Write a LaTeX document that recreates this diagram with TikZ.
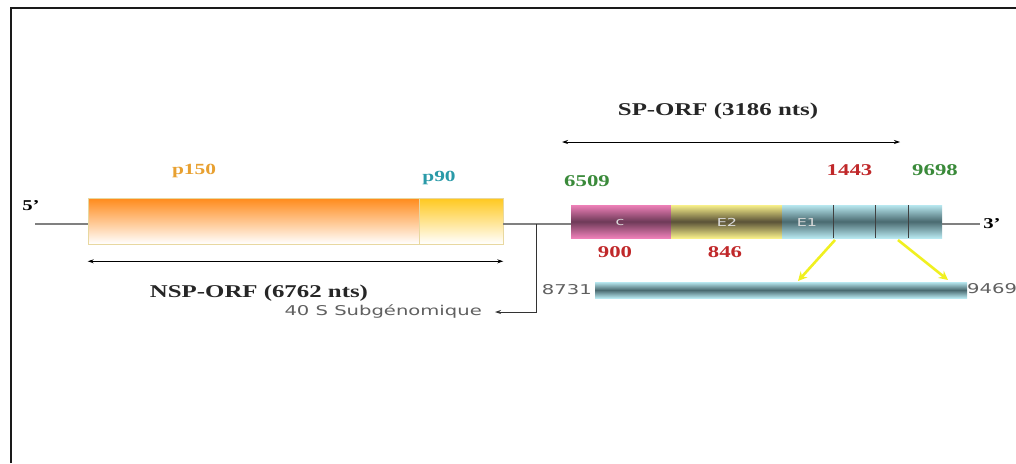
\documentclass[tikz,border=0pt]{standalone}
\usepackage{fontspec}
\usetikzlibrary{arrows.meta}
\setmainfont{Liberation Serif}
\newfontfamily\labfont[FakeStretch=1.38]{Liberation Serif}
\newfontfamily\grfont[FakeStretch=1.45]{DejaVu Sans}
\definecolor{frame}{HTML}{1A1A1A}
\definecolor{mainline}{HTML}{808080}
\definecolor{porange}{HTML}{FF8A1A}
\definecolor{pyellow}{HTML}{FFC81E}
\definecolor{pborder}{HTML}{E8D8A0}
\definecolor{lorange}{HTML}{E8A030}
\definecolor{lteal}{HTML}{2A9AA8}
\definecolor{lgreen}{HTML}{3A8A3A}
\definecolor{lred}{HTML}{C0282A}
\definecolor{cpink}{HTML}{EE80B8}
\definecolor{cdark}{HTML}{6E3A58}
\definecolor{eyel}{HTML}{F8F08A}
\definecolor{edark}{HTML}{5A5238}
\definecolor{ecyan}{HTML}{B8E8F0}
\definecolor{eteal}{HTML}{4A6A70}
\definecolor{arrowyel}{HTML}{F0F020}
\definecolor{greytext}{HTML}{606060}
\definecolor{boxtext}{HTML}{DADADA}
\tikzset{
  orfbox/.style={draw=pborder, line width=0.6pt, inner sep=0pt, minimum height=46pt},
  protbox/.style={inner sep=0pt, minimum height=33pt},
  bigl/.style={font=\labfont\bfseries\fontsize{18}{20}\selectfont, inner sep=0pt, text=black!85},
  numl/.style={font=\labfont\bfseries\fontsize{16.5}{18}\selectfont, inner sep=0pt},
  grl/.style={font=\grfont\fontsize{13.5}{15}\selectfont, inner sep=0pt, text=greytext},
  boxl/.style={font=\grfont\fontsize{11}{12}\selectfont, inner sep=0pt, text=boxtext},
  molline/.style={draw=mainline, line width=1.2pt},
  dimarrow/.style={draw=black, line width=0.8pt, {Stealth[length=6pt,width=4pt]}-{Stealth[length=6pt,width=4pt]}},
  yelarrow/.style={draw=arrowyel, line width=2.6pt, -{Stealth[length=9pt,width=9pt]}},
}
\begin{document}
\begin{tikzpicture}[x=1pt,y=-1pt]
\useasboundingbox (0,0) rectangle (1016,463);
\draw[frame, line width=2.6pt] (11,463) -- (11,8) -- (1016,8);

% non-structural ORF boxes
\node[orfbox, minimum width=331pt, top color=porange, bottom color=white] (p150) at (253.5,221) {};
\node[orfbox, minimum width=84pt, top color=pyellow, bottom color=white] (p90) at (461,221) {};

% structural protein boxes
\node[protbox, minimum width=100pt, top color=cpink, bottom color=cpink, middle color=cdark] (c) at (621,221.5) {};
\node[protbox, minimum width=111pt, top color=eyel, bottom color=eyel, middle color=edark] (e2) at (726.5,221.5) {};
\node[protbox, minimum width=160pt, top color=ecyan, bottom color=ecyan, middle color=eteal] (e1) at (862,221.5) {};
\foreach \xx in {833,875,908} \draw[black!75, line width=1pt] (\xx,205) -- (\xx,238);
\node[boxl] (cl) at (620,222) {c};
\node[boxl] (e2l) at (727,222) {E2};
\node[boxl] (e1l) at (807,222) {E1};

% E1 detail bar
\node[inner sep=0pt, minimum width=372pt, minimum height=16pt, top color=ecyan, bottom color=ecyan, middle color=eteal] (bar) at (781,290) {};

% main RNA line
\coordinate (five) at (35,224);
\coordinate (br) at (536,224);
\coordinate (threeend) at (980,224);
\draw[molline] (five) -- (five -| p150.west);
\draw[molline] (p90.east |- five) -- (c.west |- five);
\draw[molline] (e1.east |- five) -- (threeend);

% end labels
\node[font=\labfont\bfseries\fontsize{15}{16}\selectfont, inner sep=0pt] (l5) at (31,206) {5’};
\node[font=\labfont\bfseries\fontsize{15}{16}\selectfont, inner sep=0pt] (l3) at (992,224) {3’};

% protein labels
\node[numl, text=lorange, font=\labfont\bfseries\fontsize{15.5}{17}\selectfont] (lp150) at (194,171) {p150};
\node[numl, text=lteal, font=\labfont\bfseries\fontsize{15.5}{17}\selectfont] (lp90) at (439,178) {p90};

% numbers
\node[numl, text=lgreen] (n6509) at (587,181) {6509};
\node[numl, text=lred] (n1443) at (849.5,170) {1443};
\node[numl, text=lgreen] (n9698) at (935,170) {9698};
\node[numl, text=lred] (n900) at (615,252) {900};
\node[numl, text=lred] (n846) at (725,252) {846};

% ORF dimension arrows
\coordinate (spl) at (562,142);
\coordinate (spr) at (900,142);
\draw[dimarrow] (spl) -- (spr);
\node[bigl] (sp) at (718,111) {SP-ORF (3186 nts)};
\draw[dimarrow] ([yshift=-17pt]p150.south west) -- ([yshift=-17pt]p90.south east);
\node[bigl] (nsp) at (259,293) {NSP-ORF (6762 nts)};

% subgenomic promoter
\node[grl, anchor=east] (sub) at (482,312) {40 S Subgénomique};
\draw[black!80, line width=0.9pt, -{Stealth[length=6pt,width=4pt]}] (br) |- ([xshift=13pt]sub.east);

% detail bar labels
\node[grl, anchor=east] (n8731) at (592,290) {8731};
\node[grl, anchor=west] (n9469) at (967,289) {9469};

% yellow zoom arrows
\coordinate (ya1) at (835,240);
\coordinate (ya2) at (898,240);
\draw[yelarrow] (ya1) -- (798,281);
\draw[yelarrow] (ya2) -- (948,280);
\end{tikzpicture}
\end{document}
